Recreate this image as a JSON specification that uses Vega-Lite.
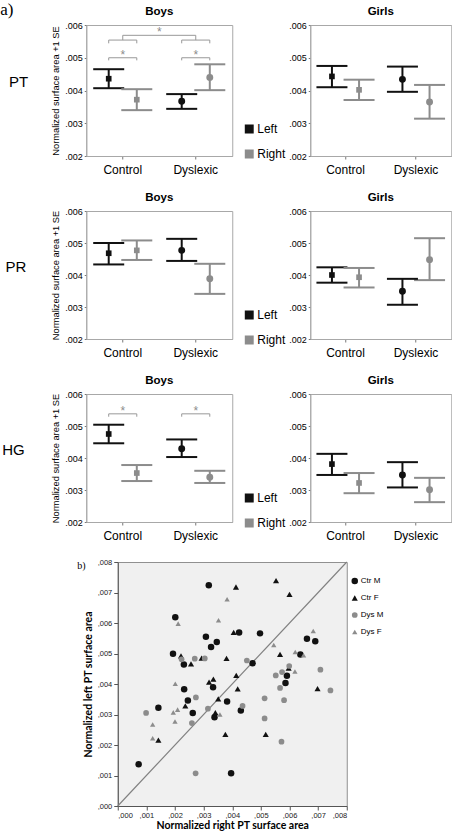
{
"$schema": "https://vega.github.io/schema/vega-lite/v6.json",
"padding": {"left": 0, "top": 1, "right": 0, "bottom": 0},
"config": {
  "font": "Liberation Sans",
  "view": {"stroke": "#a8a8a8"},
  "axis": {"grid": false, "domainColor": "#a8a8a8", "tickColor": "#777777", "labelColor": "#000000", "titleColor": "#000000", "labelOverlap": false},
  "title": {"fontSize": 11.5, "fontWeight": "bold", "offset": 4, "color": "#000000"},
  "legend": {"labelColor": "#000000"}
},
"datasets": {
  "bars": [
    {"r":"PT","s":"Boys","g":"Control","side":"Left","m":0.00436,"lo":0.00407,"hi":0.00465},
    {"r":"PT","s":"Boys","g":"Control","side":"Right","m":0.00372,"lo":0.00340,"hi":0.00404},
    {"r":"PT","s":"Boys","g":"Dyslexic","side":"Left","m":0.00367,"lo":0.00344,"hi":0.00389},
    {"r":"PT","s":"Boys","g":"Dyslexic","side":"Right","m":0.00440,"lo":0.00401,"hi":0.00480},
    {"r":"PT","s":"Girls","g":"Control","side":"Left","m":0.00443,"lo":0.00410,"hi":0.00475},
    {"r":"PT","s":"Girls","g":"Control","side":"Right","m":0.00402,"lo":0.00371,"hi":0.00433},
    {"r":"PT","s":"Girls","g":"Dyslexic","side":"Left","m":0.00434,"lo":0.00396,"hi":0.00473},
    {"r":"PT","s":"Girls","g":"Dyslexic","side":"Right","m":0.00365,"lo":0.00314,"hi":0.00417},
    {"r":"PR","s":"Boys","g":"Control","side":"Left","m":0.00468,"lo":0.00433,"hi":0.00500},
    {"r":"PR","s":"Boys","g":"Control","side":"Right","m":0.00477,"lo":0.00447,"hi":0.00508},
    {"r":"PR","s":"Boys","g":"Dyslexic","side":"Left","m":0.00477,"lo":0.00444,"hi":0.00513},
    {"r":"PR","s":"Boys","g":"Dyslexic","side":"Right","m":0.00388,"lo":0.00341,"hi":0.00435},
    {"r":"PR","s":"Girls","g":"Control","side":"Left","m":0.00400,"lo":0.00376,"hi":0.00424},
    {"r":"PR","s":"Girls","g":"Control","side":"Right","m":0.00393,"lo":0.00361,"hi":0.00422},
    {"r":"PR","s":"Girls","g":"Dyslexic","side":"Left","m":0.00349,"lo":0.00307,"hi":0.00388},
    {"r":"PR","s":"Girls","g":"Dyslexic","side":"Right","m":0.00448,"lo":0.00384,"hi":0.00515},
    {"r":"HG","s":"Boys","g":"Control","side":"Left","m":0.00475,"lo":0.00446,"hi":0.00504},
    {"r":"HG","s":"Boys","g":"Control","side":"Right","m":0.00353,"lo":0.00328,"hi":0.00378},
    {"r":"HG","s":"Boys","g":"Dyslexic","side":"Left","m":0.00429,"lo":0.00403,"hi":0.00458},
    {"r":"HG","s":"Boys","g":"Dyslexic","side":"Right","m":0.00340,"lo":0.00322,"hi":0.00360},
    {"r":"HG","s":"Girls","g":"Control","side":"Left","m":0.00381,"lo":0.00347,"hi":0.00413},
    {"r":"HG","s":"Girls","g":"Control","side":"Right","m":0.00322,"lo":0.00290,"hi":0.00353},
    {"r":"HG","s":"Girls","g":"Dyslexic","side":"Left","m":0.00347,"lo":0.00308,"hi":0.00387},
    {"r":"HG","s":"Girls","g":"Dyslexic","side":"Right","m":0.00301,"lo":0.00262,"hi":0.00338}
  ],
  "br": [
    {"r":"PT","id":"c1","g":"Control","side":"Left","y":0.00492,"o":1},
    {"r":"PT","id":"c1","g":"Control","side":"Left","y":0.00500,"o":2},
    {"r":"PT","id":"c1","g":"Control","side":"Right","y":0.00500,"o":3},
    {"r":"PT","id":"c1","g":"Control","side":"Right","y":0.00492,"o":4},
    {"r":"PT","id":"d1","g":"Dyslexic","side":"Left","y":0.00492,"o":1},
    {"r":"PT","id":"d1","g":"Dyslexic","side":"Left","y":0.00500,"o":2},
    {"r":"PT","id":"d1","g":"Dyslexic","side":"Right","y":0.00500,"o":3},
    {"r":"PT","id":"d1","g":"Dyslexic","side":"Right","y":0.00492,"o":4},
    {"r":"PT","id":"c2","g":"Control","side":"Left","y":0.00544,"o":1},
    {"r":"PT","id":"c2","g":"Control","side":"Left","y":0.00554,"o":2},
    {"r":"PT","id":"c2","g":"Control","side":"Right","y":0.00554,"o":3},
    {"r":"PT","id":"c2","g":"Control","side":"Right","y":0.00544,"o":4},
    {"r":"PT","id":"d2","g":"Dyslexic","side":"Left","y":0.00544,"o":1},
    {"r":"PT","id":"d2","g":"Dyslexic","side":"Left","y":0.00554,"o":2},
    {"r":"PT","id":"d2","g":"Dyslexic","side":"Right","y":0.00554,"o":3},
    {"r":"PT","id":"d2","g":"Dyslexic","side":"Right","y":0.00544,"o":4},
    {"r":"HG","id":"c1","g":"Control","side":"Left","y":0.00529,"o":1},
    {"r":"HG","id":"c1","g":"Control","side":"Left","y":0.00538,"o":2},
    {"r":"HG","id":"c1","g":"Control","side":"Right","y":0.00538,"o":3},
    {"r":"HG","id":"c1","g":"Control","side":"Right","y":0.00529,"o":4},
    {"r":"HG","id":"d1","g":"Dyslexic","side":"Left","y":0.00529,"o":1},
    {"r":"HG","id":"d1","g":"Dyslexic","side":"Left","y":0.00538,"o":2},
    {"r":"HG","id":"d1","g":"Dyslexic","side":"Right","y":0.00538,"o":3},
    {"r":"HG","id":"d1","g":"Dyslexic","side":"Right","y":0.00529,"o":4}
  ],
  "tb": [
    {"g":"Control","y":0.00554,"o":1},
    {"g":"Control","y":0.005685,"o":2},
    {"g":"Dyslexic","y":0.005685,"o":3},
    {"g":"Dyslexic","y":0.00554,"o":4}
  ],
  "st": [
    {"r":"PT","g":"Control","y":0.00500},
    {"r":"PT","g":"Dyslexic","y":0.00500},
    {"r":"HG","g":"Control","y":0.00538},
    {"r":"HG","g":"Dyslexic","y":0.00538}
  ],
  "ts": [{"g":"Dyslexic","y":0.005685}],
  "diag": [{"x":0,"y":0},{"x":0.008,"y":0.008}],
  "sc": [
    {"t":"Ctr M","x":0.00318,"y":0.00724},{"t":"Ctr M","x":0.00201,"y":0.00619},{"t":"Ctr M","x":0.00424,"y":0.00569},
    {"t":"Ctr M","x":0.00497,"y":0.00566},{"t":"Ctr M","x":0.00308,"y":0.00555},{"t":"Ctr M","x":0.00346,"y":0.00538},
    {"t":"Ctr M","x":0.00326,"y":0.00521},{"t":"Ctr M","x":0.00193,"y":0.00499},{"t":"Ctr M","x":0.00231,"y":0.00464},
    {"t":"Ctr M","x":0.00471,"y":0.00468},{"t":"Ctr M","x":0.00232,"y":0.00383},{"t":"Ctr M","x":0.00333,"y":0.00389},
    {"t":"Ctr M","x":0.00245,"y":0.00346},{"t":"Ctr M","x":0.00382,"y":0.00343},{"t":"Ctr M","x":0.00142,"y":0.00322},
    {"t":"Ctr M","x":0.00262,"y":0.00305},{"t":"Ctr M","x":0.00430,"y":0.00313},{"t":"Ctr M","x":0.00338,"y":0.00291},
    {"t":"Ctr M","x":0.00073,"y":0.00137},{"t":"Ctr M","x":0.00396,"y":0.00107},{"t":"Ctr M","x":0.00661,"y":0.00548},
    {"t":"Ctr M","x":0.00690,"y":0.00540},{"t":"Ctr M","x":0.00638,"y":0.00497},{"t":"Ctr M","x":0.00591,"y":0.00427},
    {"t":"Ctr M","x":0.00586,"y":0.00403},
    {"t":"Ctr F","x":0.00413,"y":0.00718},{"t":"Ctr F","x":0.00405,"y":0.00569},{"t":"Ctr F","x":0.00221,"y":0.00492},
    {"t":"Ctr F","x":0.00256,"y":0.00466},{"t":"Ctr F","x":0.00293,"y":0.00485},{"t":"Ctr F","x":0.00380,"y":0.00484},
    {"t":"Ctr F","x":0.00319,"y":0.00406},{"t":"Ctr F","x":0.00334,"y":0.00416},{"t":"Ctr F","x":0.00414,"y":0.00428},
    {"t":"Ctr F","x":0.00419,"y":0.00384},{"t":"Ctr F","x":0.00351,"y":0.00351},{"t":"Ctr F","x":0.00236,"y":0.00328},
    {"t":"Ctr F","x":0.00341,"y":0.00306},{"t":"Ctr F","x":0.00142,"y":0.00216},{"t":"Ctr F","x":0.00376,"y":0.00235},
    {"t":"Ctr F","x":0.00553,"y":0.00739},{"t":"Ctr F","x":0.00600,"y":0.00694},{"t":"Ctr F","x":0.00567,"y":0.00497},
    {"t":"Ctr F","x":0.00597,"y":0.00452},{"t":"Ctr F","x":0.00698,"y":0.00385},{"t":"Ctr F","x":0.00517,"y":0.00235},
    {"t":"Dys M","x":0.00223,"y":0.00481},{"t":"Dys M","x":0.00269,"y":0.00483},{"t":"Dys M","x":0.00304,"y":0.00484},
    {"t":"Dys M","x":0.00451,"y":0.00477},{"t":"Dys M","x":0.00273,"y":0.00356},{"t":"Dys M","x":0.00436,"y":0.00328},
    {"t":"Dys M","x":0.00099,"y":0.00305},{"t":"Dys M","x":0.00315,"y":0.00319},{"t":"Dys M","x":0.00259,"y":0.00272},
    {"t":"Dys M","x":0.00272,"y":0.00107},{"t":"Dys M","x":0.00599,"y":0.00459},{"t":"Dys M","x":0.00574,"y":0.00439},
    {"t":"Dys M","x":0.00708,"y":0.00447},{"t":"Dys M","x":0.00552,"y":0.00428},{"t":"Dys M","x":0.00567,"y":0.00387},
    {"t":"Dys M","x":0.00743,"y":0.00379},{"t":"Dys M","x":0.00513,"y":0.00353},{"t":"Dys M","x":0.00581,"y":0.00347},
    {"t":"Dys M","x":0.00513,"y":0.00287},{"t":"Dys M","x":0.00572,"y":0.00211},
    {"t":"Dys F","x":0.00211,"y":0.00598},{"t":"Dys F","x":0.00382,"y":0.00678},{"t":"Dys F","x":0.00352,"y":0.00609},
    {"t":"Dys F","x":0.00201,"y":0.00401},{"t":"Dys F","x":0.00209,"y":0.00316},{"t":"Dys F","x":0.00194,"y":0.00307},
    {"t":"Dys F","x":0.00357,"y":0.00300},{"t":"Dys F","x":0.00122,"y":0.00267},{"t":"Dys F","x":0.00200,"y":0.00277},
    {"t":"Dys F","x":0.00122,"y":0.00222},{"t":"Dys F","x":0.00683,"y":0.00574},{"t":"Dys F","x":0.00545,"y":0.00528},
    {"t":"Dys F","x":0.00620,"y":0.00505},{"t":"Dys F","x":0.00649,"y":0.00494},{"t":"Dys F","x":0.00619,"y":0.00441}
  ]
},
"resolve": {"scale": {"color": "independent", "shape": "independent", "size": "independent", "xOffset": "independent"}, "legend": {"color": "independent", "shape": "independent", "size": "independent"}},
"spacing": 15,
"center": true,
"vconcat": [
{
  "title": {"text": "a)", "anchor": "start", "font": "Liberation Serif", "fontSize": 17, "fontWeight": "normal", "offset": -14, "dx": -2},
  "spacing": 15,
  "resolve": {"scale": {"color": "independent", "shape": "independent", "size": "independent", "xOffset": "independent"}, "legend": {"color": "independent", "shape": "independent", "size": "independent"}},
  "vconcat": [
  {
    "title": {"text": "PT", "orient": "left", "angle": 0, "align": "right", "baseline": "middle", "fontSize": 15, "fontWeight": "normal", "offset": 4, "anchor": "middle", "dy": -8},
    "spacing": 0,
    "resolve": {"scale": {"color": "independent", "shape": "independent", "size": "independent", "xOffset": "independent"}, "legend": {"color": "independent", "shape": "independent", "size": "independent"}},
    "hconcat": [
    {
      "width": 146, "height": 131, "title": {"text": "Boys"},
      "layer": [
        {"data": {"name": "bars"}, "transform": [{"filter": "datum.r=='PT' && datum.s=='Boys'"}], "mark": {"type": "point", "filled": true, "opacity": 1},
         "encoding": {
           "x": {"field": "g", "type": "nominal", "scale": {"domain": ["Control","Dyslexic"], "paddingInner": 0, "paddingOuter": 0}, "axis": {"title": null, "labelAngle": 0, "labelFontSize": 12, "labelPadding": 5, "tickSize": 3}},
           "xOffset": {"field": "side", "type": "nominal", "scale": {"domain": ["Left","Right"], "paddingInner": 0, "paddingOuter": 0.3}},
           "y": {"field": "m", "type": "quantitative", "scale": {"domain": [0.002, 0.006], "nice": false, "zero": false}, "axis": {"values": [0.002,0.003,0.004,0.005,0.006], "tickCount": 10, "labelOverlap": false, "labelExpr": "replace(format(datum.value,'.3f'),'0.','.')", "labelFontSize": 9, "tickSize": 2, "labelPadding": 2, "title": "Normalized surface area +1 SE", "titleFontSize": 9.3, "titleFontWeight": "normal", "titlePadding": 4}},
           "color": {"field": "side", "type": "nominal", "scale": {"domain": ["Left","Right"], "range": ["#111111","#8c8c8c"]}, "legend": {"orient": "none", "legendX": 157, "legendY": 98, "title": null, "symbolType": "square", "symbolSize": 55, "labelFontSize": 12, "rowPadding": 11, "labelOffset": 2, "padding": 0}},
           "shape": {"field": "g", "type": "nominal", "scale": {"domain": ["Control","Dyslexic"], "range": ["square","circle"]}, "legend": null},
           "size": {"field": "g", "type": "nominal", "scale": {"domain": ["Control","Dyslexic"], "range": [32, 48]}, "legend": null}}},
        {"data": {"name": "bars"}, "transform": [{"filter": "datum.r=='PT' && datum.s=='Boys'"}], "mark": {"type": "rule", "strokeWidth": 2},
         "encoding": {"x": {"field": "g", "type": "nominal"}, "xOffset": {"field": "side", "type": "nominal"}, "y": {"field": "lo", "type": "quantitative"}, "y2": {"field": "hi"}, "color": {"field": "side", "type": "nominal"}}},
        {"data": {"name": "bars"}, "transform": [{"filter": "datum.r=='PT' && datum.s=='Boys'"}], "mark": {"type": "tick", "thickness": 2, "size": 31, "opacity": 1},
         "encoding": {"x": {"field": "g", "type": "nominal"}, "xOffset": {"field": "side", "type": "nominal"}, "y": {"field": "lo", "type": "quantitative"}, "color": {"field": "side", "type": "nominal"}}},
        {"data": {"name": "bars"}, "transform": [{"filter": "datum.r=='PT' && datum.s=='Boys'"}], "mark": {"type": "tick", "thickness": 2, "size": 31, "opacity": 1},
         "encoding": {"x": {"field": "g", "type": "nominal"}, "xOffset": {"field": "side", "type": "nominal"}, "y": {"field": "hi", "type": "quantitative"}, "color": {"field": "side", "type": "nominal"}}},
        {"data": {"name": "br"}, "transform": [{"filter": "datum.r=='PT'"}], "mark": {"type": "line", "color": "#999999", "strokeWidth": 1},
         "encoding": {"x": {"field": "g", "type": "nominal"}, "xOffset": {"field": "side", "type": "nominal"}, "y": {"field": "y", "type": "quantitative"}, "detail": {"field": "id"}, "order": {"field": "o"}}},
        {"data": {"name": "tb"}, "mark": {"type": "line", "color": "#999999", "strokeWidth": 1},
         "encoding": {"x": {"field": "g", "type": "nominal"}, "y": {"field": "y", "type": "quantitative"}, "order": {"field": "o"}}},
        {"data": {"name": "st"}, "transform": [{"filter": "datum.r=='PT'"}], "mark": {"type": "text", "text": "*", "fontSize": 12, "color": "#8c8c8c", "baseline": "alphabetic", "dy": 1},
         "encoding": {"x": {"field": "g", "type": "nominal"}, "y": {"field": "y", "type": "quantitative"}}},
        {"data": {"name": "ts"}, "mark": {"type": "text", "text": "*", "fontSize": 12, "color": "#8c8c8c", "baseline": "alphabetic", "dy": 1},
         "encoding": {"x": {"field": "g", "type": "nominal", "bandPosition": 0}, "y": {"field": "y", "type": "quantitative"}}}
      ]
    },
    {
      "width": 141, "height": 131, "title": {"text": "Girls"},
      "layer": [
        {"data": {"name": "bars"}, "transform": [{"filter": "datum.r=='PT' && datum.s=='Girls'"}], "mark": {"type": "point", "filled": true, "opacity": 1},
         "encoding": {
           "x": {"field": "g", "type": "nominal", "scale": {"domain": ["Control","Dyslexic"], "paddingInner": 0, "paddingOuter": 0}, "axis": {"title": null, "labelAngle": 0, "labelFontSize": 12, "labelPadding": 5, "tickSize": 3}},
           "xOffset": {"field": "side", "type": "nominal", "scale": {"domain": ["Left","Right"], "paddingInner": 0, "paddingOuter": 0.3}},
           "y": {"field": "m", "type": "quantitative", "scale": {"domain": [0.002, 0.006], "nice": false, "zero": false}, "axis": {"values": [0.002,0.003,0.004,0.005,0.006], "tickCount": 10, "labelOverlap": false, "labelExpr": "replace(format(datum.value,'.3f'),'0.','.')", "labelFontSize": 9, "tickSize": 2, "labelPadding": 2, "title": null}},
           "color": {"field": "side", "type": "nominal", "scale": {"domain": ["Left","Right"], "range": ["#111111","#8c8c8c"]}, "legend": null},
           "shape": {"field": "g", "type": "nominal", "scale": {"domain": ["Control","Dyslexic"], "range": ["square","circle"]}, "legend": null},
           "size": {"field": "g", "type": "nominal", "scale": {"domain": ["Control","Dyslexic"], "range": [32, 48]}, "legend": null}}},
        {"data": {"name": "bars"}, "transform": [{"filter": "datum.r=='PT' && datum.s=='Girls'"}], "mark": {"type": "rule", "strokeWidth": 2},
         "encoding": {"x": {"field": "g", "type": "nominal"}, "xOffset": {"field": "side", "type": "nominal"}, "y": {"field": "lo", "type": "quantitative"}, "y2": {"field": "hi"}, "color": {"field": "side", "type": "nominal", "legend": null}}},
        {"data": {"name": "bars"}, "transform": [{"filter": "datum.r=='PT' && datum.s=='Girls'"}], "mark": {"type": "tick", "thickness": 2, "size": 31, "opacity": 1},
         "encoding": {"x": {"field": "g", "type": "nominal"}, "xOffset": {"field": "side", "type": "nominal"}, "y": {"field": "lo", "type": "quantitative"}, "color": {"field": "side", "type": "nominal", "legend": null}}},
        {"data": {"name": "bars"}, "transform": [{"filter": "datum.r=='PT' && datum.s=='Girls'"}], "mark": {"type": "tick", "thickness": 2, "size": 31, "opacity": 1},
         "encoding": {"x": {"field": "g", "type": "nominal"}, "xOffset": {"field": "side", "type": "nominal"}, "y": {"field": "hi", "type": "quantitative"}, "color": {"field": "side", "type": "nominal", "legend": null}}}
      ]
    }
    ]
  },
  {
    "title": {"text": "PR", "orient": "left", "angle": 0, "align": "right", "baseline": "middle", "fontSize": 15, "fontWeight": "normal", "offset": 4, "anchor": "middle", "dy": -8},
    "spacing": 0,
    "resolve": {"scale": {"color": "independent", "shape": "independent", "size": "independent", "xOffset": "independent"}, "legend": {"color": "independent", "shape": "independent", "size": "independent"}},
    "hconcat": [
    {
      "width": 146, "height": 128, "title": {"text": "Boys"},
      "layer": [
        {"data": {"name": "bars"}, "transform": [{"filter": "datum.r=='PR' && datum.s=='Boys'"}], "mark": {"type": "point", "filled": true, "opacity": 1},
         "encoding": {
           "x": {"field": "g", "type": "nominal", "scale": {"domain": ["Control","Dyslexic"], "paddingInner": 0, "paddingOuter": 0}, "axis": {"title": null, "labelAngle": 0, "labelFontSize": 12, "labelPadding": 5, "tickSize": 3}},
           "xOffset": {"field": "side", "type": "nominal", "scale": {"domain": ["Left","Right"], "paddingInner": 0, "paddingOuter": 0.3}},
           "y": {"field": "m", "type": "quantitative", "scale": {"domain": [0.002, 0.006], "nice": false, "zero": false}, "axis": {"values": [0.002,0.003,0.004,0.005,0.006], "tickCount": 10, "labelOverlap": false, "labelExpr": "replace(format(datum.value,'.3f'),'0.','.')", "labelFontSize": 9, "tickSize": 2, "labelPadding": 2, "title": "Normalized surface area +1 SE", "titleFontSize": 9.3, "titleFontWeight": "normal", "titlePadding": 4}},
           "color": {"field": "side", "type": "nominal", "scale": {"domain": ["Left","Right"], "range": ["#111111","#8c8c8c"]}, "legend": {"orient": "none", "legendX": 157, "legendY": 98, "title": null, "symbolType": "square", "symbolSize": 55, "labelFontSize": 12, "rowPadding": 11, "labelOffset": 2, "padding": 0}},
           "shape": {"field": "g", "type": "nominal", "scale": {"domain": ["Control","Dyslexic"], "range": ["square","circle"]}, "legend": null},
           "size": {"field": "g", "type": "nominal", "scale": {"domain": ["Control","Dyslexic"], "range": [32, 48]}, "legend": null}}},
        {"data": {"name": "bars"}, "transform": [{"filter": "datum.r=='PR' && datum.s=='Boys'"}], "mark": {"type": "rule", "strokeWidth": 2},
         "encoding": {"x": {"field": "g", "type": "nominal"}, "xOffset": {"field": "side", "type": "nominal"}, "y": {"field": "lo", "type": "quantitative"}, "y2": {"field": "hi"}, "color": {"field": "side", "type": "nominal"}}},
        {"data": {"name": "bars"}, "transform": [{"filter": "datum.r=='PR' && datum.s=='Boys'"}], "mark": {"type": "tick", "thickness": 2, "size": 31, "opacity": 1},
         "encoding": {"x": {"field": "g", "type": "nominal"}, "xOffset": {"field": "side", "type": "nominal"}, "y": {"field": "lo", "type": "quantitative"}, "color": {"field": "side", "type": "nominal"}}},
        {"data": {"name": "bars"}, "transform": [{"filter": "datum.r=='PR' && datum.s=='Boys'"}], "mark": {"type": "tick", "thickness": 2, "size": 31, "opacity": 1},
         "encoding": {"x": {"field": "g", "type": "nominal"}, "xOffset": {"field": "side", "type": "nominal"}, "y": {"field": "hi", "type": "quantitative"}, "color": {"field": "side", "type": "nominal"}}}
      ]
    },
    {
      "width": 141, "height": 128, "title": {"text": "Girls"},
      "layer": [
        {"data": {"name": "bars"}, "transform": [{"filter": "datum.r=='PR' && datum.s=='Girls'"}], "mark": {"type": "point", "filled": true, "opacity": 1},
         "encoding": {
           "x": {"field": "g", "type": "nominal", "scale": {"domain": ["Control","Dyslexic"], "paddingInner": 0, "paddingOuter": 0}, "axis": {"title": null, "labelAngle": 0, "labelFontSize": 12, "labelPadding": 5, "tickSize": 3}},
           "xOffset": {"field": "side", "type": "nominal", "scale": {"domain": ["Left","Right"], "paddingInner": 0, "paddingOuter": 0.3}},
           "y": {"field": "m", "type": "quantitative", "scale": {"domain": [0.002, 0.006], "nice": false, "zero": false}, "axis": {"values": [0.002,0.003,0.004,0.005,0.006], "tickCount": 10, "labelOverlap": false, "labelExpr": "replace(format(datum.value,'.3f'),'0.','.')", "labelFontSize": 9, "tickSize": 2, "labelPadding": 2, "title": null}},
           "color": {"field": "side", "type": "nominal", "scale": {"domain": ["Left","Right"], "range": ["#111111","#8c8c8c"]}, "legend": null},
           "shape": {"field": "g", "type": "nominal", "scale": {"domain": ["Control","Dyslexic"], "range": ["square","circle"]}, "legend": null},
           "size": {"field": "g", "type": "nominal", "scale": {"domain": ["Control","Dyslexic"], "range": [32, 48]}, "legend": null}}},
        {"data": {"name": "bars"}, "transform": [{"filter": "datum.r=='PR' && datum.s=='Girls'"}], "mark": {"type": "rule", "strokeWidth": 2},
         "encoding": {"x": {"field": "g", "type": "nominal"}, "xOffset": {"field": "side", "type": "nominal"}, "y": {"field": "lo", "type": "quantitative"}, "y2": {"field": "hi"}, "color": {"field": "side", "type": "nominal", "legend": null}}},
        {"data": {"name": "bars"}, "transform": [{"filter": "datum.r=='PR' && datum.s=='Girls'"}], "mark": {"type": "tick", "thickness": 2, "size": 31, "opacity": 1},
         "encoding": {"x": {"field": "g", "type": "nominal"}, "xOffset": {"field": "side", "type": "nominal"}, "y": {"field": "lo", "type": "quantitative"}, "color": {"field": "side", "type": "nominal", "legend": null}}},
        {"data": {"name": "bars"}, "transform": [{"filter": "datum.r=='PR' && datum.s=='Girls'"}], "mark": {"type": "tick", "thickness": 2, "size": 31, "opacity": 1},
         "encoding": {"x": {"field": "g", "type": "nominal"}, "xOffset": {"field": "side", "type": "nominal"}, "y": {"field": "hi", "type": "quantitative"}, "color": {"field": "side", "type": "nominal", "legend": null}}}
      ]
    }
    ]
  },
  {
    "title": {"text": "HG", "orient": "left", "angle": 0, "align": "right", "baseline": "middle", "fontSize": 15, "fontWeight": "normal", "offset": 4, "anchor": "middle", "dy": -8},
    "spacing": 0,
    "resolve": {"scale": {"color": "independent", "shape": "independent", "size": "independent", "xOffset": "independent"}, "legend": {"color": "independent", "shape": "independent", "size": "independent"}},
    "hconcat": [
    {
      "width": 146, "height": 128, "title": {"text": "Boys"},
      "layer": [
        {"data": {"name": "bars"}, "transform": [{"filter": "datum.r=='HG' && datum.s=='Boys'"}], "mark": {"type": "point", "filled": true, "opacity": 1},
         "encoding": {
           "x": {"field": "g", "type": "nominal", "scale": {"domain": ["Control","Dyslexic"], "paddingInner": 0, "paddingOuter": 0}, "axis": {"title": null, "labelAngle": 0, "labelFontSize": 12, "labelPadding": 5, "tickSize": 3}},
           "xOffset": {"field": "side", "type": "nominal", "scale": {"domain": ["Left","Right"], "paddingInner": 0, "paddingOuter": 0.3}},
           "y": {"field": "m", "type": "quantitative", "scale": {"domain": [0.002, 0.006], "nice": false, "zero": false}, "axis": {"values": [0.002,0.003,0.004,0.005,0.006], "tickCount": 10, "labelOverlap": false, "labelExpr": "replace(format(datum.value,'.3f'),'0.','.')", "labelFontSize": 9, "tickSize": 2, "labelPadding": 2, "title": "Normalized surface area +1 SE", "titleFontSize": 9.3, "titleFontWeight": "normal", "titlePadding": 4}},
           "color": {"field": "side", "type": "nominal", "scale": {"domain": ["Left","Right"], "range": ["#111111","#8c8c8c"]}, "legend": {"orient": "none", "legendX": 157, "legendY": 98, "title": null, "symbolType": "square", "symbolSize": 55, "labelFontSize": 12, "rowPadding": 11, "labelOffset": 2, "padding": 0}},
           "shape": {"field": "g", "type": "nominal", "scale": {"domain": ["Control","Dyslexic"], "range": ["square","circle"]}, "legend": null},
           "size": {"field": "g", "type": "nominal", "scale": {"domain": ["Control","Dyslexic"], "range": [32, 48]}, "legend": null}}},
        {"data": {"name": "bars"}, "transform": [{"filter": "datum.r=='HG' && datum.s=='Boys'"}], "mark": {"type": "rule", "strokeWidth": 2},
         "encoding": {"x": {"field": "g", "type": "nominal"}, "xOffset": {"field": "side", "type": "nominal"}, "y": {"field": "lo", "type": "quantitative"}, "y2": {"field": "hi"}, "color": {"field": "side", "type": "nominal"}}},
        {"data": {"name": "bars"}, "transform": [{"filter": "datum.r=='HG' && datum.s=='Boys'"}], "mark": {"type": "tick", "thickness": 2, "size": 31, "opacity": 1},
         "encoding": {"x": {"field": "g", "type": "nominal"}, "xOffset": {"field": "side", "type": "nominal"}, "y": {"field": "lo", "type": "quantitative"}, "color": {"field": "side", "type": "nominal"}}},
        {"data": {"name": "bars"}, "transform": [{"filter": "datum.r=='HG' && datum.s=='Boys'"}], "mark": {"type": "tick", "thickness": 2, "size": 31, "opacity": 1},
         "encoding": {"x": {"field": "g", "type": "nominal"}, "xOffset": {"field": "side", "type": "nominal"}, "y": {"field": "hi", "type": "quantitative"}, "color": {"field": "side", "type": "nominal"}}},
        {"data": {"name": "br"}, "transform": [{"filter": "datum.r=='HG'"}], "mark": {"type": "line", "color": "#999999", "strokeWidth": 1},
         "encoding": {"x": {"field": "g", "type": "nominal"}, "xOffset": {"field": "side", "type": "nominal"}, "y": {"field": "y", "type": "quantitative"}, "detail": {"field": "id"}, "order": {"field": "o"}}},
        {"data": {"name": "st"}, "transform": [{"filter": "datum.r=='HG'"}], "mark": {"type": "text", "text": "*", "fontSize": 12, "color": "#8c8c8c", "baseline": "alphabetic", "dy": 1},
         "encoding": {"x": {"field": "g", "type": "nominal"}, "y": {"field": "y", "type": "quantitative"}}}
      ]
    },
    {
      "width": 141, "height": 128, "title": {"text": "Girls"},
      "layer": [
        {"data": {"name": "bars"}, "transform": [{"filter": "datum.r=='HG' && datum.s=='Girls'"}], "mark": {"type": "point", "filled": true, "opacity": 1},
         "encoding": {
           "x": {"field": "g", "type": "nominal", "scale": {"domain": ["Control","Dyslexic"], "paddingInner": 0, "paddingOuter": 0}, "axis": {"title": null, "labelAngle": 0, "labelFontSize": 12, "labelPadding": 5, "tickSize": 3}},
           "xOffset": {"field": "side", "type": "nominal", "scale": {"domain": ["Left","Right"], "paddingInner": 0, "paddingOuter": 0.3}},
           "y": {"field": "m", "type": "quantitative", "scale": {"domain": [0.002, 0.006], "nice": false, "zero": false}, "axis": {"values": [0.002,0.003,0.004,0.005,0.006], "tickCount": 10, "labelOverlap": false, "labelExpr": "replace(format(datum.value,'.3f'),'0.','.')", "labelFontSize": 9, "tickSize": 2, "labelPadding": 2, "title": null}},
           "color": {"field": "side", "type": "nominal", "scale": {"domain": ["Left","Right"], "range": ["#111111","#8c8c8c"]}, "legend": null},
           "shape": {"field": "g", "type": "nominal", "scale": {"domain": ["Control","Dyslexic"], "range": ["square","circle"]}, "legend": null},
           "size": {"field": "g", "type": "nominal", "scale": {"domain": ["Control","Dyslexic"], "range": [32, 48]}, "legend": null}}},
        {"data": {"name": "bars"}, "transform": [{"filter": "datum.r=='HG' && datum.s=='Girls'"}], "mark": {"type": "rule", "strokeWidth": 2},
         "encoding": {"x": {"field": "g", "type": "nominal"}, "xOffset": {"field": "side", "type": "nominal"}, "y": {"field": "lo", "type": "quantitative"}, "y2": {"field": "hi"}, "color": {"field": "side", "type": "nominal", "legend": null}}},
        {"data": {"name": "bars"}, "transform": [{"filter": "datum.r=='HG' && datum.s=='Girls'"}], "mark": {"type": "tick", "thickness": 2, "size": 31, "opacity": 1},
         "encoding": {"x": {"field": "g", "type": "nominal"}, "xOffset": {"field": "side", "type": "nominal"}, "y": {"field": "lo", "type": "quantitative"}, "color": {"field": "side", "type": "nominal", "legend": null}}},
        {"data": {"name": "bars"}, "transform": [{"filter": "datum.r=='HG' && datum.s=='Girls'"}], "mark": {"type": "tick", "thickness": 2, "size": 31, "opacity": 1},
         "encoding": {"x": {"field": "g", "type": "nominal"}, "xOffset": {"field": "side", "type": "nominal"}, "y": {"field": "hi", "type": "quantitative"}, "color": {"field": "side", "type": "nominal", "legend": null}}}
      ]
    }
    ]
  }
  ]
},
{
  "title": {"text": "\u00a0", "orient": "right", "offset": 32, "fontSize": 4},
  "resolve": {"scale": {"color": "independent", "shape": "independent", "size": "independent"}, "legend": {"color": "independent", "shape": "independent", "size": "independent"}},
  "hconcat": [
  {
    "width": 229, "height": 244,
    "view": {"fill": "#f0f0f0", "stroke": "#909090"},
    "title": {"text": "b)", "anchor": "start", "font": "Liberation Serif", "fontSize": 10, "fontWeight": "normal", "offset": -13, "dx": -6},
    "layer": [
      {"data": {"name": "diag"}, "mark": {"type": "line", "color": "#808080", "strokeWidth": 1.2},
       "encoding": {
         "x": {"field": "x", "type": "quantitative", "scale": {"domain": [0, 0.008], "nice": false}, "axis": {"values": [0,0.001,0.002,0.003,0.004,0.005,0.006,0.007,0.008], "tickCount": 20, "labelOverlap": false, "labelExpr": "replace(format(datum.value,'.3f'),'0.',',')", "title": "Normalized right PT surface area", "titleFont": "Lato", "titleFontSize": 10.5, "titleFontWeight": "bold", "labelFontSize": 7.5, "tickSize": 4, "domainColor": "#555555", "tickColor": "#555555", "labelPadding": 1, "titlePadding": 2, "labelColor": "#222222"}},
         "y": {"field": "y", "type": "quantitative", "scale": {"domain": [0, 0.008], "nice": false}, "axis": {"values": [0,0.001,0.002,0.003,0.004,0.005,0.006,0.007,0.008], "tickCount": 20, "labelOverlap": false, "labelExpr": "replace(format(datum.value,'.3f'),'0.',',')", "title": "Normalized left PT surface area", "titleFont": "Lato", "titleFontSize": 10.5, "titleFontWeight": "bold", "labelFontSize": 7.5, "tickSize": 4, "domainColor": "#555555", "tickColor": "#555555", "labelPadding": 2, "titlePadding": 4, "labelColor": "#222222"}}
       }},
      {"data": {"name": "sc"}, "mark": {"type": "point", "filled": true, "opacity": 1},
       "encoding": {
         "x": {"field": "x", "type": "quantitative"},
         "y": {"field": "y", "type": "quantitative"},
         "color": {"field": "t", "type": "nominal", "scale": {"domain": ["Ctr M","Ctr F","Dys M","Dys F"], "range": ["#111111","#111111","#8c8c8c","#8c8c8c"]}, "legend": {"orient": "right", "offset": 4, "title": "\u00a0", "titleFontSize": 8, "titlePadding": 7, "labelFontSize": 8, "rowPadding": 9, "labelOffset": 2, "padding": 0}},
         "shape": {"field": "t", "type": "nominal", "scale": {"domain": ["Ctr M","Ctr F","Dys M","Dys F"], "range": ["circle","triangle-up","circle","triangle-up"]}, "legend": {"orient": "right", "offset": 4, "title": "\u00a0", "titleFontSize": 8, "titlePadding": 7, "labelFontSize": 8, "rowPadding": 9, "labelOffset": 2, "padding": 0}},
         "size": {"field": "t", "type": "nominal", "scale": {"domain": ["Ctr M","Ctr F","Dys M","Dys F"], "range": [42, 28, 42, 28]}, "legend": {"orient": "right", "offset": 4, "title": "\u00a0", "titleFontSize": 8, "titlePadding": 7, "labelFontSize": 8, "rowPadding": 9, "labelOffset": 2, "padding": 0}}
       }}
    ]
  }
  ]
}
]
}
